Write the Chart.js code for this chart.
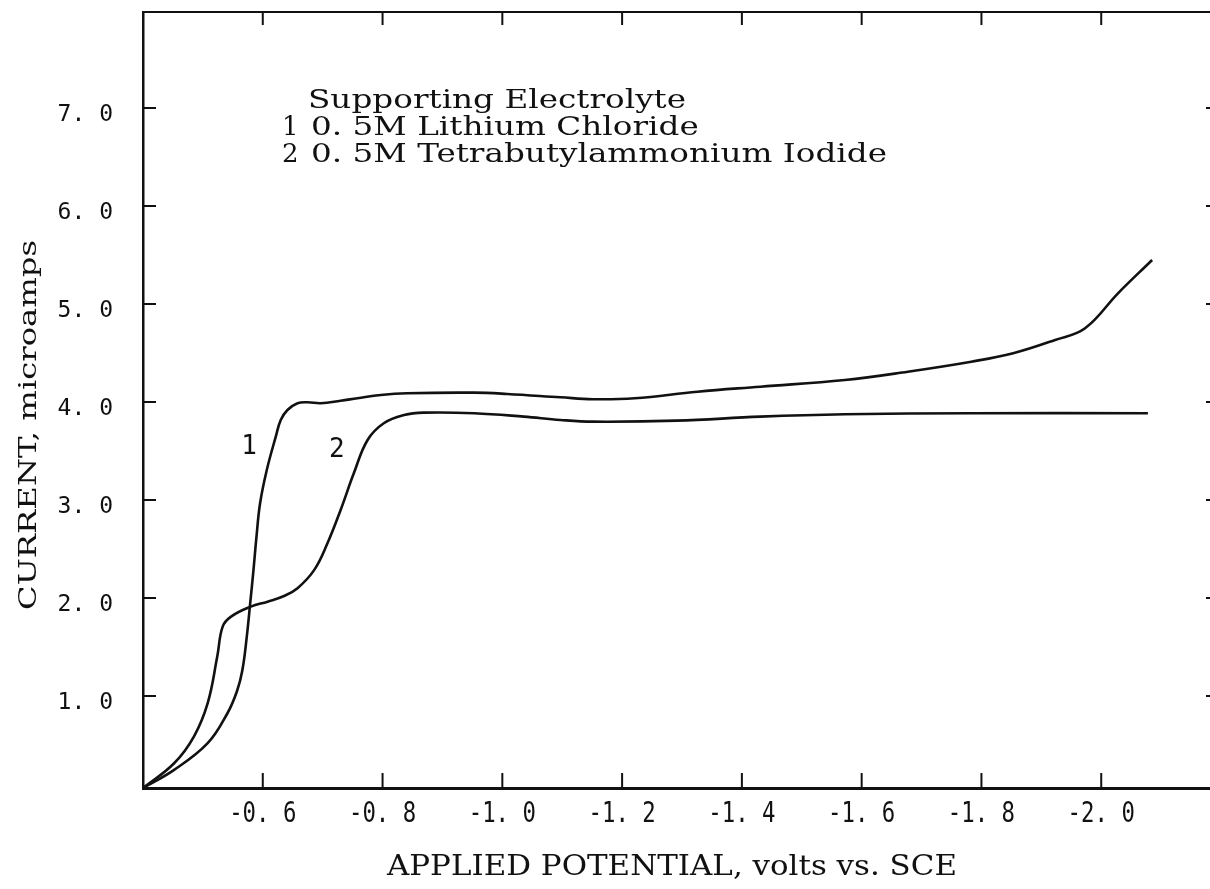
<!DOCTYPE html>
<html>
<head>
<meta charset="utf-8">
<script src="https://cdn.jsdelivr.net/npm/chart.js@4.4.1/dist/chart.umd.min.js"></script>
<style>
  html, body { margin: 0; padding: 0; background: #fff; overflow: hidden; }
  #wrap { width: 1210px; height: 889px; overflow: hidden; }
</style>
</head>
<body>
<div id="wrap"><canvas id="polarogram" width="1232" height="889"></canvas></div>
<script>
// curve 1: 0.5M LiCl supporting electrolyte (volts vs SCE, microamps)
const liclPotential = [-0.40, -0.452, -0.508, -0.541, -0.557, -0.566, -0.5733, -0.579, -0.5845, -0.5895, -0.5955, -0.6067, -0.6217, -0.630, -0.6412, -0.658, -0.675, -0.697, -0.730, -0.758, -0.797, -0.841, -0.953, -1.008, -1.097, -1.151, -1.221, -1.326, -1.431, -1.572, -1.677, -1.783, -1.853, -1.923, -1.973, -2.028, -2.085];
const liclCurrent = [0.06, 0.245, 0.517, 0.823, 1.05, 1.265, 1.605, 1.946, 2.286, 2.626, 2.966, 3.306, 3.646, 3.816, 3.918, 3.987, 3.997, 3.987, 4.013, 4.038, 4.071, 4.089, 4.095, 4.082, 4.048, 4.028, 4.038, 4.105, 4.156, 4.224, 4.309, 4.411, 4.497, 4.633, 4.752, 5.109, 5.449];

// curve 2: 0.5M tetrabutylammonium iodide
const tbaiPotential = [-0.40, -0.452, -0.485, -0.508, -0.524, -0.533, -0.547, -0.580, -0.608, -0.6355, -0.658, -0.686, -0.708, -0.730, -0.752, -0.775, -0.802, -0.836, -0.869, -0.953, -1.036, -1.097, -1.151, -1.291, -1.431, -1.572, -1.783, -2.078];
const tbaiCurrent = [0.06, 0.313, 0.585, 0.926, 1.401, 1.707, 1.809, 1.911, 1.962, 2.020, 2.099, 2.286, 2.558, 2.898, 3.272, 3.612, 3.783, 3.867, 3.891, 3.885, 3.850, 3.816, 3.799, 3.809, 3.850, 3.874, 3.885, 3.885];

const xTicks = [-0.6, -0.8, -1.0, -1.2, -1.4, -1.6, -1.8, -2.0];
const xTickLabels = ['-0. 6', '-0. 8', '-1. 0', '-1. 2', '-1. 4', '-1. 6', '-1. 8', '-2. 0'];
const yTicks = [1, 2, 3, 4, 5, 6, 7];
const yTickLabels = ['1. 0', '2. 0', '3. 0', '4. 0', '5. 0', '6. 0', '7. 0'];

const xTitle = 'APPLIED POTENTIAL, volts vs. SCE';
const yTitle = 'CURRENT, microamps';
const keyTitle = 'Supporting Electrolyte';
const keyNumbers = ['1', '2'];
const keyNames = ['0. 5M Lithium Chloride', '0. 5M Tetrabutylammonium Iodide'];
// where the "1" and "2" tags sit next to the curves (volts, microamps)
const tagPositions = [[-0.577, 3.54], [-0.7235, 3.51]];

function points(xs, ys) {
    return xs.map((v, i) => ({ x: v, y: ys[i] }));
}

// draw text squeezed/stretched sideways by sx
function drawText(ctx, text, x, y, sx, align, baseline, angle) {
    ctx.save();
    ctx.translate(x, y);
    ctx.rotate(angle || 0);
    ctx.scale(sx, 1);
    ctx.textAlign = align;
    ctx.textBaseline = baseline;
    ctx.fillText(text, 0, 0);
    ctx.restore();
}

// box, inward tick marks, titles, key text and curve tags
const decorations = {
    id: 'decorations',
    afterDraw(chart) {
        const { ctx, chartArea: a, scales: { x, y } } = chart;
        ctx.save();
        ctx.strokeStyle = '#111';
        ctx.lineWidth = 2;
        ctx.beginPath();
        ctx.moveTo(a.left, a.top);
        ctx.lineTo(a.right, a.top);
        ctx.lineTo(a.right, a.bottom);
        xTicks.forEach(v => {
            const px = x.getPixelForValue(v);
            ctx.moveTo(px, a.bottom);
            ctx.lineTo(px, a.bottom - 15);
            ctx.moveTo(px, a.top);
            ctx.lineTo(px, a.top + 13);
        });
        yTicks.forEach(v => {
            const py = y.getPixelForValue(v);
            ctx.moveTo(a.left, py);
            ctx.lineTo(a.left + 13, py);
            ctx.moveTo(a.right, py);
            ctx.lineTo(a.right - 15, py);
        });
        ctx.stroke();

        ctx.fillStyle = '#111';

        // tall narrow tick numbers under the x axis
        ctx.font = '29px "DejaVu Sans Mono"';
        xTicks.forEach((v, i) => {
            drawText(ctx, xTickLabels[i], x.getPixelForValue(v), a.bottom + 26, 0.77, 'center', 'middle');
        });

        // axis titles
        ctx.font = '27px "DejaVu Serif"';
        let sx = 570 / ctx.measureText(xTitle).width;
        drawText(ctx, xTitle, 672, 868, sx, 'center', 'middle');
        ctx.font = '24px "DejaVu Serif"';
        sx = 370 / ctx.measureText(yTitle).width;
        drawText(ctx, yTitle, 30, 425, sx, 'center', 'middle', -Math.PI / 2);

        // key
        ctx.font = '26px "DejaVu Serif"';
        sx = 576 / ctx.measureText(keyNames[1]).width;
        drawText(ctx, keyTitle, 308, 108, sx, 'left', 'alphabetic');
        keyNames.forEach((name, i) => {
            drawText(ctx, keyNumbers[i], 282, 135 + i * 27, 1, 'left', 'alphabetic');
            drawText(ctx, name, 311, 135 + i * 27, sx, 'left', 'alphabetic');
        });

        // curve tags
        ctx.font = '26px "DejaVu Sans Mono"';
        tagPositions.forEach((p, i) => {
            drawText(ctx, keyNumbers[i], x.getPixelForValue(p[0]), y.getPixelForValue(p[1]), 1, 'center', 'middle');
        });
        ctx.restore();
    }
};

new Chart(document.getElementById('polarogram'), {
    type: 'line',
    data: {
        datasets: [{
            label: keyNames[0],
            data: points(liclPotential, liclCurrent),
            borderColor: '#111',
            borderWidth: 2.6,
            pointRadius: 0,
            fill: false,
            tension: 0.4
        }, {
            label: keyNames[1],
            data: points(tbaiPotential, tbaiCurrent),
            borderColor: '#111',
            borderWidth: 2.6,
            pointRadius: 0,
            fill: false,
            tension: 0.4
        }]
    },
    options: {
        responsive: false,
        devicePixelRatio: 1,
        animation: false,
        layout: { padding: { left: 0, top: 12, right: 11, bottom: 0 } },
        plugins: {
            legend: { display: false },
            tooltip: { enabled: false }
        },
        scales: {
            x: {
                type: 'linear',
                reverse: true,
                min: -2.2,
                max: -0.4,
                afterBuildTicks: scale => { scale.ticks = xTicks.map(v => ({ value: v })); },
                afterFit: scale => {
                    scale.height = 101;
                    scale.paddingLeft = 0;
                    scale.paddingRight = 0;
                },
                grid: { display: false, drawTicks: false },
                border: { display: true, color: '#111', width: 3 },
                ticks: { display: false }
            },
            y: {
                type: 'linear',
                min: 0.06,
                max: 7.98,
                afterBuildTicks: scale => { scale.ticks = yTicks.map(v => ({ value: v })); },
                afterFit: scale => {
                    scale.width = 143;
                    scale.paddingTop = 0;
                    scale.paddingBottom = 0;
                },
                grid: { display: false, drawTicks: false },
                border: { display: true, color: '#111', width: 2.5 },
                ticks: {
                    color: '#111',
                    padding: 30,
                    labelOffset: 7,
                    font: { family: '"DejaVu Sans Mono"', size: 23 },
                    callback: v => yTickLabels[yTicks.indexOf(v)]
                }
            }
        }
    },
    plugins: [decorations]
});
</script>
</body>
</html>
